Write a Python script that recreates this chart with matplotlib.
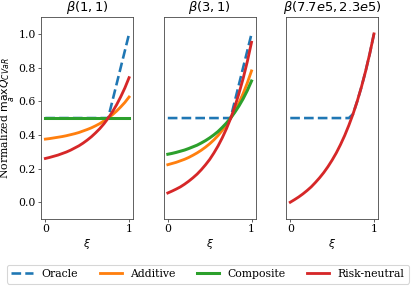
import matplotlib
matplotlib.use('Agg')
import matplotlib.pyplot as plt

xi = [0.0, 0.05, 0.1, 0.15, 0.2, 0.25, 0.3, 0.35, 0.4, 0.45, 0.5,
      0.55, 0.6, 0.65, 0.7, 0.75, 0.8, 0.85, 0.9, 0.95, 1.0]

titles = [r'$\beta(1,1)$', r'$\beta(3,1)$', r'$\beta(7.7e5,2.3e5)$']

# beta(1,1)
oracle_1 = [0.5] * 16 + [0.6, 0.7, 0.8, 0.9, 1.0]
additive_1 = [0.375, 0.378, 0.382, 0.386, 0.390, 0.395, 0.401, 0.407, 0.414, 0.423, 0.432,
              0.442, 0.454, 0.467, 0.483, 0.500, 0.519, 0.541, 0.566, 0.593, 0.625]
composite_1 = [0.5] * 21
neutral_1 = [0.260, 0.266, 0.273, 0.280, 0.289, 0.298, 0.309, 0.322, 0.335, 0.351, 0.369,
             0.389, 0.412, 0.437, 0.466, 0.499, 0.536, 0.578, 0.626, 0.679, 0.740]

# beta(3,1)
oracle_2 = [0.5] * 16 + [0.6, 0.7, 0.8, 0.9, 1.0]
additive_2 = [0.223, 0.230, 0.237, 0.246, 0.255, 0.266, 0.279, 0.293, 0.309, 0.327, 0.347,
              0.370, 0.396, 0.426, 0.460, 0.498, 0.541, 0.590, 0.646, 0.709, 0.780]
composite_2 = [0.285, 0.290, 0.296, 0.303, 0.310, 0.319, 0.329, 0.339, 0.352, 0.366, 0.382,
               0.400, 0.420, 0.444, 0.470, 0.500, 0.534, 0.572, 0.615, 0.664, 0.720]
neutral_2 = [0.055, 0.066, 0.078, 0.091, 0.107, 0.125, 0.145, 0.167, 0.193, 0.222, 0.254,
             0.292, 0.334, 0.382, 0.436, 0.497, 0.567, 0.646, 0.735, 0.836, 0.950]

# beta(7.7e5, 2.3e5)
neutral_3 = [0.0, 0.015, 0.031, 0.049, 0.069, 0.091, 0.117, 0.145, 0.176, 0.211, 0.250,
             0.293, 0.342, 0.396, 0.457, 0.524, 0.600, 0.684, 0.778, 0.883, 1.0]
oracle_3 = [0.5] * 15 + [0.524, 0.600, 0.684, 0.778, 0.883, 1.0]

plt.rcParams['font.family'] = 'DejaVu Serif'
plt.rcParams['mathtext.fontset'] = 'dejavusans'

dpi = 78
fig, axes = plt.subplots(1, 3, figsize=(416 / dpi, 289 / dpi), dpi=dpi, sharey=True)
fig.subplots_adjust(left=0.099, right=0.909, top=0.941, bottom=0.242, wspace=0.33)

panels = [
    (oracle_1, additive_1, composite_1, neutral_1),
    (oracle_2, additive_2, composite_2, neutral_2),
    (oracle_3, None, None, neutral_3),
]

lw = 2.6
for i, (ax, (orc, add, comp, neu)) in enumerate(zip(axes, panels)):
    ax.plot(xi, orc, '--', color='tab:blue', lw=lw - 0.2, label='Oracle')
    if add is not None:
        ax.plot(xi, add, color='tab:orange', lw=lw, label='Additive')
        ax.plot(xi, comp, color='tab:green', lw=lw + 0.2, label='Composite')
    ax.plot(xi, neu, color='tab:red', lw=lw, label='Risk-neutral')
    ax.set_title(titles[i])
    ax.set_xlim(-0.05, 1.05)
    ax.set_ylim(-0.1, 1.1)
    ax.set_xticks([0, 1])
    ax.set_xticklabels(['0', '1'])
    ax.set_xlabel(r'$\xi$', labelpad=2)
    ax.tick_params(color='0.3', length=2.8, pad=2.2)
    for s in ax.spines.values():
        s.set_color('0.3')
    if i > 0:
        ax.tick_params(axis='y', left=False)

axes[0].set_yticks([0.0, 0.2, 0.4, 0.6, 0.8, 1.0])
axes[0].set_ylabel(r'Normalized $\max_a Q_{CVaR}$', labelpad=1)

handles, labels = axes[0].get_legend_handles_labels()
fig.legend(handles, labels, loc='lower center', ncol=4)

fig.savefig('out.png', dpi=dpi)
